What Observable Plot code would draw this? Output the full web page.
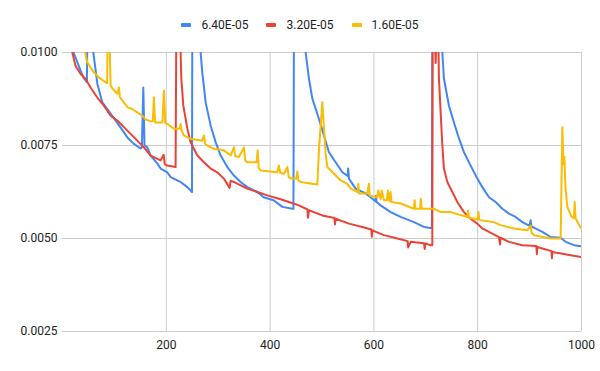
<!DOCTYPE html>
<html><head><meta charset="utf-8">
<script src="https://cdn.jsdelivr.net/npm/d3@7"></script>
<script src="https://cdn.jsdelivr.net/npm/@observablehq/plot@0.6"></script>
<style>
body{margin:0;background:#fff;font-family:Roboto, sans-serif;}
#wrap{position:relative;width:600px;height:371px;}
#legend{position:absolute;top:17px;left:0;width:600px;display:flex;justify-content:center;font-size:12px;line-height:16px;color:#222;}
.item{display:flex;align-items:center;margin:0 9px;}
.sw{display:inline-block;width:10px;height:4px;border-radius:1px;margin-right:10px;}
</style></head><body>
<div id="wrap"><div id="legend"></div><div id="chart"></div></div>
<script>
const seriesNames = ["6.40E-05", "3.20E-05", "1.60E-05"];
const seriesColors = ["#4285F4", "#EA4335", "#FBBC04"];
const xTicks = [200, 400, 600, 800, 1000];
const yTicks = [0.0025, 0.005, 0.0075, 0.01];

const blueX = [19, 21.4, 34.9, 40.7, 44.5, 47, 48, 58, 59.4, 67.1, 76.7, 92.7, 112, 125.4, 137, 150.5, 153, 155.7, 158, 163.4, 169.8, 182.7, 189, 201.9, 208.3, 221.2, 227.6, 240.5, 246.8, 249.5, 250.1, 265, 266.1, 269.4, 275.8, 285.4, 295, 304.7, 317.6, 329.7, 343.2, 356.1, 375.4, 387.5, 406.8, 423.6, 442.8, 445, 445.9, 467, 468.5, 474.8, 481.4, 494.1, 503.7, 513.4, 526.3, 539.2, 549.5, 550.5, 551.9, 564.8, 584.1, 597, 603, 604, 605, 613, 632.3, 651.5, 677.2, 696.4, 709.3, 711.8, 712.6, 730, 731.9, 734.9, 744.6, 754.2, 763.9, 773.5, 786.4, 799.3, 808.9, 821.7, 834.6, 847.5, 860.2, 873.1, 886, 900, 902, 904, 905.3, 924.6, 940.6, 959.8, 969.4, 985.5, 1000];
const blueY = [0.0106, 0.0100, 0.00951, 0.00932, 0.00925, 0.00920, 0.0106, 0.0106, 0.0100, 0.00916, 0.00866, 0.00836, 0.00798, 0.00771, 0.00755, 0.00742, 0.00745, 0.00906, 0.00750, 0.00745, 0.00723, 0.00702, 0.00688, 0.00678, 0.00665, 0.00656, 0.00652, 0.00638, 0.00629, 0.00625, 0.0106, 0.0106, 0.0100, 0.00946, 0.00866, 0.00804, 0.00759, 0.00723, 0.00692, 0.00670, 0.00652, 0.00638, 0.00625, 0.00611, 0.00603, 0.00585, 0.00580, 0.00580, 0.0106, 0.0106, 0.0100, 0.00930, 0.00876, 0.00822, 0.00777, 0.00732, 0.00705, 0.00678, 0.00668, 0.00688, 0.00661, 0.00634, 0.00621, 0.00607, 0.00600, 0.00615, 0.00598, 0.00589, 0.00571, 0.00558, 0.00544, 0.00531, 0.00528, 0.00528, 0.0106, 0.0106, 0.0100, 0.00930, 0.00857, 0.00812, 0.00769, 0.00732, 0.00696, 0.00661, 0.00638, 0.00611, 0.00598, 0.00580, 0.00567, 0.00558, 0.00544, 0.00534, 0.00549, 0.00530, 0.00531, 0.00518, 0.00504, 0.00502, 0.00491, 0.00482, 0.00479];

const redX = [17, 18.9, 25.2, 34.9, 44.5, 54.1, 67.1, 79.8, 92.7, 105.6, 124.9, 144.1, 156.9, 169.8, 189, 195, 197, 201.9, 217.9, 219.3, 226, 227.6, 228.9, 232.8, 240.5, 246.8, 259.8, 272.5, 285.4, 298.3, 311, 322, 324, 330.3, 343.2, 356.1, 375.4, 394.6, 417, 436.3, 455.5, 472, 473, 474.8, 500.6, 524, 525, 526.3, 551.9, 577.7, 595, 596, 597, 619.3, 645.2, 665, 666, 670.8, 696.4, 698, 699, 709.3, 712.5, 713.2, 717, 719, 721, 724, 725.3, 728.6, 731.9, 734.9, 741.5, 751.1, 760.8, 773.5, 786.4, 799.3, 808.9, 821.7, 840.9, 843, 844, 860.2, 886, 913, 914, 914.9, 942, 943, 943.8, 979.1, 1000];
const redY = [0.0106, 0.0100, 0.00964, 0.00942, 0.00929, 0.00906, 0.00879, 0.00857, 0.00830, 0.00817, 0.00790, 0.00763, 0.00745, 0.00723, 0.00710, 0.00725, 0.00700, 0.00696, 0.00692, 0.0106, 0.0106, 0.0100, 0.00930, 0.00857, 0.00796, 0.00759, 0.00723, 0.00705, 0.00688, 0.00678, 0.00661, 0.00636, 0.00655, 0.00652, 0.00643, 0.00634, 0.00625, 0.00616, 0.00607, 0.00598, 0.00589, 0.00578, 0.00556, 0.00576, 0.00562, 0.00555, 0.00538, 0.00553, 0.00540, 0.00531, 0.00524, 0.00505, 0.00522, 0.00509, 0.00500, 0.00493, 0.00476, 0.00491, 0.00487, 0.00472, 0.00487, 0.00482, 0.00482, 0.0106, 0.0106, 0.00972, 0.0106, 0.0106, 0.00930, 0.00839, 0.00750, 0.00688, 0.00652, 0.00625, 0.00598, 0.00571, 0.00553, 0.00540, 0.00527, 0.00518, 0.00504, 0.00484, 0.00502, 0.00491, 0.00482, 0.00480, 0.00458, 0.00477, 0.00466, 0.00447, 0.00464, 0.00455, 0.00450];

const yellowX = [42, 43.5, 47.8, 60.5, 73.4, 83.1, 86, 87, 90, 92.7, 96, 105.6, 108.7, 110.5, 115.2, 124.9, 134.5, 144.1, 153.8, 160.1, 169.8, 174, 176.1, 178.5, 192.5, 195.4, 198, 201.9, 214.7, 225.5, 227.6, 229.5, 233.9, 246.8, 269.4, 272.5, 275, 279, 291.7, 311, 323.9, 330.3, 333, 339.9, 349.6, 352, 356.1, 374, 376, 378, 381.7, 413.9, 417, 419.5, 426.6, 433.2, 436, 439.5, 450.5, 452.5, 454.5, 458.8, 491, 494.1, 500.6, 507, 510.3, 523, 535.9, 548.8, 555.2, 569, 570, 571.2, 587.3, 590.4, 592, 606.6, 608, 613, 615, 619.3, 625, 627, 630, 632, 634, 651.5, 677.2, 678.5, 680, 689, 690.5, 692, 715.7, 728.6, 747.9, 780, 781.5, 783, 800, 801.5, 803, 805.6, 831.3, 844.2, 869.8, 895.7, 902, 904, 908.4, 940.6, 959.8, 963.1, 965, 967, 969, 972.7, 980, 985.5, 986.8, 988.5, 992, 998.4, 1000];
const yellowY = [0.0106, 0.0100, 0.00973, 0.00946, 0.00929, 0.00920, 0.00918, 0.0106, 0.0106, 0.00911, 0.00904, 0.00889, 0.00906, 0.00880, 0.00871, 0.00853, 0.00848, 0.00839, 0.00830, 0.00820, 0.00815, 0.00815, 0.00879, 0.00812, 0.00812, 0.00897, 0.00810, 0.00808, 0.00795, 0.00795, 0.00808, 0.00790, 0.00777, 0.00768, 0.00763, 0.00777, 0.00755, 0.00750, 0.00741, 0.00737, 0.00723, 0.00745, 0.00721, 0.00719, 0.00745, 0.00710, 0.00705, 0.00705, 0.00737, 0.00690, 0.00683, 0.00678, 0.00696, 0.00676, 0.00674, 0.00692, 0.00665, 0.00661, 0.00661, 0.00680, 0.00656, 0.00652, 0.00645, 0.00737, 0.00866, 0.00728, 0.00692, 0.00674, 0.00656, 0.00647, 0.00634, 0.00625, 0.00647, 0.00621, 0.00621, 0.00647, 0.00615, 0.00611, 0.00629, 0.00606, 0.00629, 0.00603, 0.00603, 0.00629, 0.00600, 0.00625, 0.00598, 0.00594, 0.00580, 0.00603, 0.00580, 0.00580, 0.00607, 0.00580, 0.00580, 0.00571, 0.00571, 0.00558, 0.00575, 0.00556, 0.00552, 0.00571, 0.00550, 0.00549, 0.00544, 0.00536, 0.00527, 0.00522, 0.00535, 0.00515, 0.00509, 0.00500, 0.00500, 0.00799, 0.00700, 0.00720, 0.00640, 0.00585, 0.00560, 0.00554, 0.00598, 0.00555, 0.00545, 0.00529, 0.00528];

const seriesX = [blueX, redX, yellowX];
const seriesY = [blueY, redY, yellowY];
const data = seriesNames.flatMap((name, k) => seriesX[k].map((x, i) => ({x, y: seriesY[k][i], s: name})));

const legend = document.getElementById("legend");
seriesNames.forEach((n, k) => {
  const it = document.createElement("div"); it.className = "item";
  const sw = document.createElement("span"); sw.className = "sw"; sw.style.background = seriesColors[k];
  const tx = document.createElement("span"); tx.textContent = n;
  it.appendChild(sw); it.appendChild(tx); legend.appendChild(it);
});

const chart = Plot.plot({
  width: 600, height: 371,
  marginTop: 52, marginBottom: 40, marginLeft: 62, marginRight: 19,
  x: {domain: [0, 1000]},
  y: {domain: [0.0025, 0.01]},
  style: {fontFamily: "Roboto, sans-serif", fontSize: "12px", color: "#222", background: "transparent"},
  marks: [
    Plot.ruleY(yTicks, {stroke: "#cccccc", strokeWidth: 1}),
    Plot.ruleX(xTicks, {stroke: "#cccccc", strokeWidth: 1}),
    Plot.axisY({ticks: yTicks, tickFormat: d3.format(".4f"), tickSize: 0, tickPadding: 5, label: null}),
    Plot.axisX({ticks: xTicks, tickFormat: d3.format("d"), tickSize: 0, tickPadding: 9, label: null}),
    ...seriesNames.map((n, k) => Plot.line(data.filter(d => d.s === n), {x: "x", y: "y", stroke: seriesColors[k], strokeWidth: 2, clip: true}))
  ]
});
document.getElementById("chart").appendChild(chart);
</script></body></html>
